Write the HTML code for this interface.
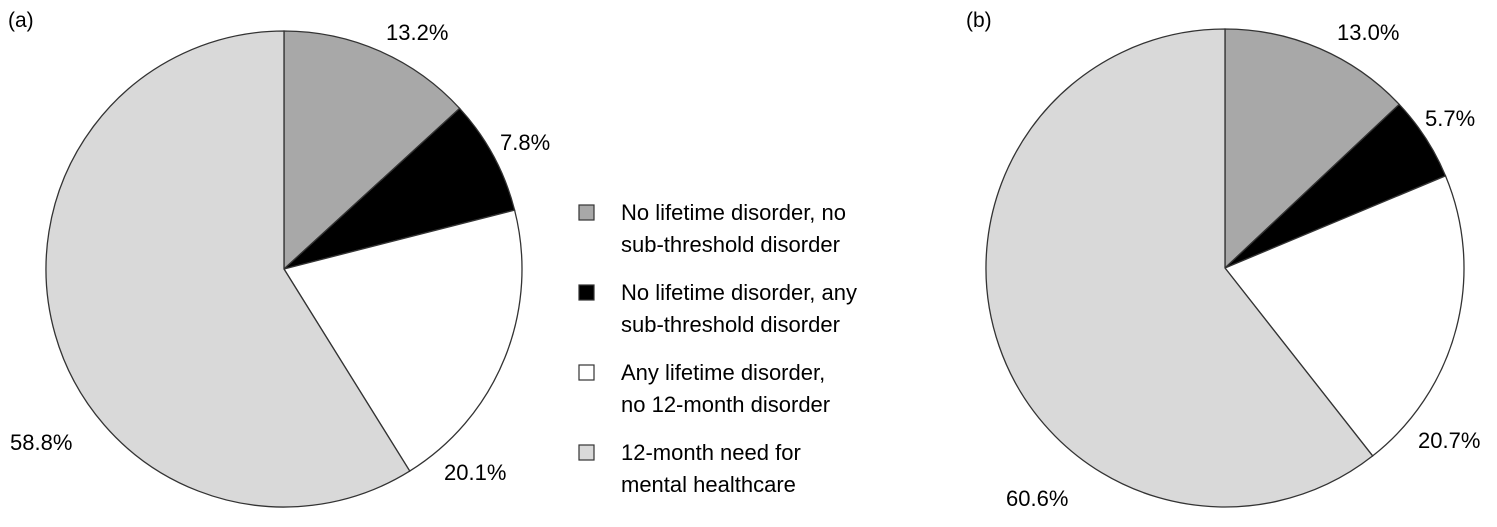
<!DOCTYPE html>
<html><head><meta charset="utf-8"><style>
body{margin:0;background:#fff;}
svg{display:block;font-family:"Liberation Sans",sans-serif;}
</style></head><body>
<svg id="chart" width="1497" height="527" viewBox="0 0 1497 527">
<text x="8" y="27" font-size="21">(a)</text>
<text x="966" y="27" font-size="21">(b)</text>
<g id="pieA"></g>
<g id="pieB"></g>
<g id="legend"></g>
</svg>
<script>
const categories=["No lifetime disorder, no sub-threshold disorder","No lifetime disorder, any sub-threshold disorder","Any lifetime disorder, no 12-month disorder","12-month need for mental healthcare"];
const valuesA=[13.2,7.8,20.1,58.8];
const valuesB=[13.0,5.7,20.7,60.6];
const labelsA=["13.2%","7.8%","20.1%","58.8%"];
const labelsB=["13.0%","5.7%","20.7%","60.6%"];
const legendLines=[["No lifetime disorder, no","sub-threshold disorder"],["No lifetime disorder, any","sub-threshold disorder"],["Any lifetime disorder,","no 12-month disorder"],["12-month need for","mental healthcare"]];
const fills=["#a8a8a8","#000000","#ffffff","#d9d9d9"];
const NS="http://www.w3.org/2000/svg";
function drawPie(g,vals,labs,cx,cy,r,labelPos,prefix){
  const tot=vals.reduce((a,b)=>a+b,0);let a0=0;
  vals.forEach((v,i)=>{
    const a1=a0+v/tot*2*Math.PI;
    const x0=cx+r*Math.sin(a0),y0=cy-r*Math.cos(a0),x1=cx+r*Math.sin(a1),y1=cy-r*Math.cos(a1);
    const p=document.createElementNS(NS,"path");
    p.setAttribute("d",`M${cx},${cy}L${x0},${y0}A${r},${r} 0 ${a1-a0>Math.PI?1:0} 1 ${x1},${y1}Z`);
    p.setAttribute("fill",fills[i]);p.setAttribute("stroke","#333");p.setAttribute("stroke-width","1.3");
    
    
    g.appendChild(p);
    a0=a1;
  });
  labs.forEach((l,i)=>{
    const t=document.createElementNS(NS,"text");
    t.setAttribute("x",labelPos[i][0]);t.setAttribute("y",labelPos[i][1]);t.setAttribute("font-size","22");
    t.textContent=l;
    
    
    g.appendChild(t);
  });
}
drawPie(document.getElementById("pieA"),valuesA,labelsA,284,269,238,[[386,40],[500,150],[444,480],[10,450]],"pie-a");
drawPie(document.getElementById("pieB"),valuesB,labelsB,1225,268,239,[[1337,40],[1425,126],[1418,448],[1006,506]],"pie-b");
const lg=document.getElementById("legend");
legendLines.forEach((ls,i)=>{
  const y0=212+i*80;
  const r=document.createElementNS(NS,"rect");
  r.setAttribute("x",579);r.setAttribute("y",y0-7);r.setAttribute("width",15);r.setAttribute("height",15);
  r.setAttribute("fill",fills[i]);r.setAttribute("stroke","#333");r.setAttribute("stroke-width","1.2");
  
  
  lg.appendChild(r);
  ls.forEach((s,j)=>{
    const t=document.createElementNS(NS,"text");
    t.setAttribute("x",621);t.setAttribute("y",y0+8+j*32);t.setAttribute("font-size","22");
    t.textContent=s;
    
    
    lg.appendChild(t);
  });
});
</script>
</body></html>
